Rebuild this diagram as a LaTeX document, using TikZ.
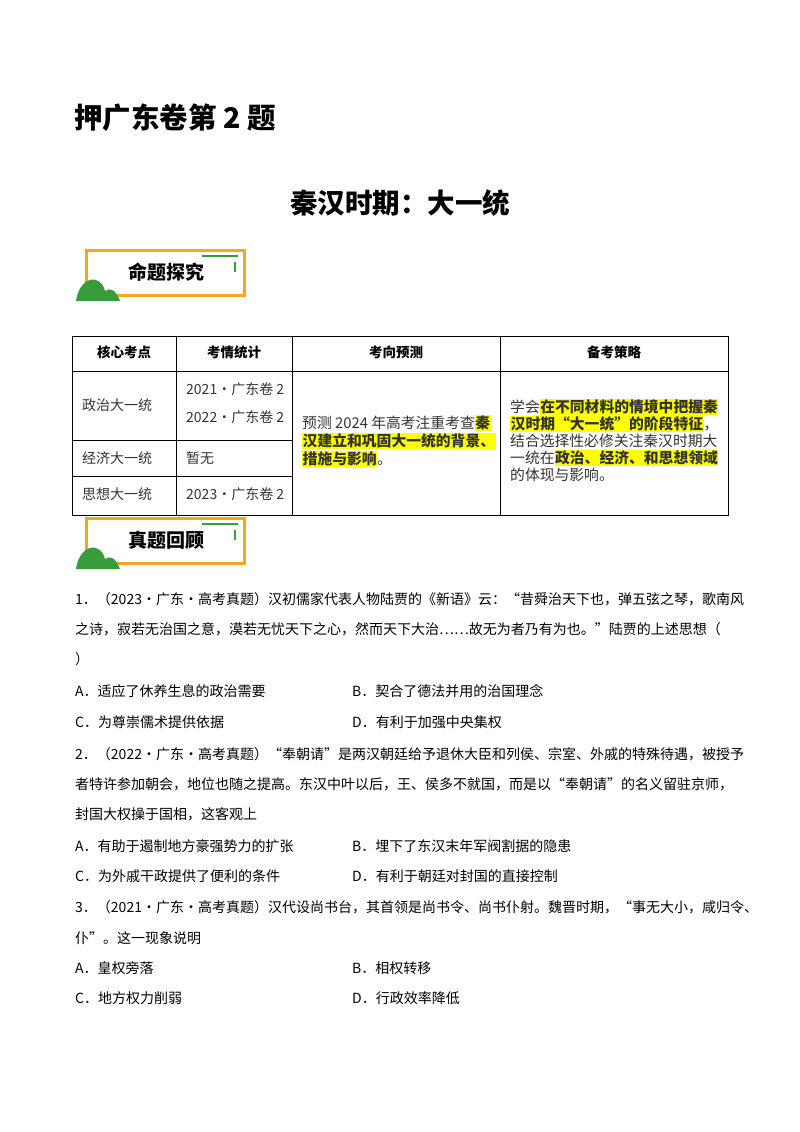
\documentclass[tikz,border=0pt]{standalone}
\usepackage{fontspec}
\setmainfont{Noto Sans CJK SC}
\usepackage{xcolor}
\definecolor{hl}{HTML}{FFFF00}
\definecolor{orng}{HTML}{F5A623}
\definecolor{grn}{HTML}{3A9B3A}
\newcommand{\hlt}[1]{{\setlength{\fboxsep}{0.5pt}\colorbox{hl}{\bfseries #1}}}
\begin{document}
\begin{tikzpicture}[x=1pt,y=-1pt,
  txt/.style={anchor=west,inner sep=0pt,font=\fontsize{14}{14}\selectfont},
  cell/.style={anchor=west,inner sep=0pt,font=\fontsize{14}{14}\selectfont,text=black!80},
  wcell/.style={anchor=west,inner sep=0pt,font=\fontsize{14.8}{14.8}\selectfont,text=black!80},
  hd/.style={inner sep=0pt,font=\fontsize{13.5}{13.5}\selectfont\bfseries}]
\useasboundingbox[fill=white] (0,0) rectangle (800,1132);
\node[anchor=west,inner sep=0pt,font=\fontsize{28.5}{28.5}\selectfont\bfseries] (t1) at (74,118) {押广东卷第 2 题};
\node[inner sep=0pt,font=\fontsize{27.5}{27.5}\selectfont\bfseries] (t2) at (400,203) {秦汉时期：大一统};
% badges
\foreach \y/\lab/\nm in {250/命题探究/ba,518/真题回顾/bb}{
  \draw[orng,line width=3pt] (86,\y) rectangle (244,\y+45);
  \draw[grn,line width=1.2pt] (202,\y+6) -- (238,\y+6) (235,\y+12) -- (235,\y+22);
  \fill[grn] (76,\y+51) .. controls (79,\y+32) and (90,\y+28) .. (96,\y+30) .. controls (102,\y+32) and (104,\y+37) .. (105,\y+41) .. controls (110,\y+37) and (116,\y+40) .. (120,\y+51) -- cycle;
  \node[inner sep=0pt,font=\fontsize{19}{19}\selectfont\bfseries] (\nm) at (166,\y+22) {\lab};
}
% table
\draw[line width=0.8pt] (72,336) rectangle (728,515);
\draw (72,371) -- (728,371);
\draw (176,336) -- (176,515) (292,336) -- (292,515) (500,336) -- (500,515);
\draw (72,440) -- (292,440) (72,476) -- (292,476);
\node[hd] (h1) at (124,352) {核心考点};
\node[hd] (h2) at (234,352) {考情统计};
\node[hd] (h3) at (396,352) {考向预测};
\node[hd] (h4) at (614,352) {备考策略};
\node[cell] (c11) at (82,405) {政治大一统};
\node[cell] (c12) at (186,389) {2021·广东卷 2};
\node[cell] (c13) at (186,417) {2022·广东卷 2};
\node[cell] (c21) at (82,458) {经济大一统};
\node[cell] (c22) at (186,458) {暂无};
\node[cell] (c31) at (82,494) {思想大一统};
\node[cell] (c32) at (186,494) {2023·广东卷 2};
\node[wcell] (p1) at (302,423) {预测 2024 年高考注重考查\hlt{秦}};
\node[wcell] (p2) at (302,441) {\hlt{汉建立和巩固大一统的背景、}};
\node[wcell] (p3) at (302,459) {\hlt{措施与影响}。};
\node[wcell] (s1) at (510,407) {学会\hlt{在不同材料的情境中把握秦}};
\node[wcell] (s2) at (510,424) {\hlt{汉时期“大一统”的阶段特征}，};
\node[wcell] (s3) at (510,441) {结合选择性必修关注秦汉时期大};
\node[wcell] (s4) at (510,458) {一统在\hlt{政治、经济、和思想领域}};
\node[wcell] (s5) at (510,475) {的体现与影响。};
% questions
\node[txt] (q1a) at (75,599) {1．（2023·广东·高考真题）汉初儒家代表人物陆贾的《新语》云：“昔舜治天下也，弹五弦之琴，歌南风};
\node[txt] (q1b) at (75,629) {之诗，寂若无治国之意，漠若无忧天下之心，然而天下大治……故无为者乃有为也。”陆贾的上述思想（};
\node[txt] (q1c) at (75,659) {）};
\node[txt] (o1a) at (75,691) {A．适应了休养生息的政治需要};
\node[txt] (o1b) at (352,691) {B．契合了德法并用的治国理念};
\node[txt] (o1c) at (75,722) {C．为尊崇儒术提供依据};
\node[txt] (o1d) at (352,722) {D．有利于加强中央集权};
\node[txt] (q2a) at (75,754) {2．（2022·广东·高考真题）“奉朝请”是两汉朝廷给予退休大臣和列侯、宗室、外戚的特殊待遇，被授予};
\node[txt] (q2b) at (75,784) {者特许参加朝会，地位也随之提高。东汉中叶以后，王、侯多不就国，而是以“奉朝请”的名义留驻京师，};
\node[txt] (q2c) at (75,814) {封国大权操于国相，这客观上};
\node[txt] (o2a) at (75,846) {A．有助于遏制地方豪强势力的扩张};
\node[txt] (o2b) at (352,846) {B．埋下了东汉末年军阀割据的隐患};
\node[txt] (o2c) at (75,876) {C．为外戚干政提供了便利的条件};
\node[txt] (o2d) at (352,876) {D．有利于朝廷对封国的直接控制};
\node[txt] (q3a) at (75,907) {3．（2021·广东·高考真题）汉代设尚书台，其首领是尚书令、尚书仆射。魏晋时期，“事无大小，咸归令、};
\node[txt] (q3b) at (75,938) {仆”。这一现象说明};
\node[txt] (o3a) at (75,968) {A．皇权旁落};
\node[txt] (o3b) at (352,968) {B．相权转移};
\node[txt] (o3c) at (75,998) {C．地方权力削弱};
\node[txt] (o3d) at (352,998) {D．行政效率降低};
\end{tikzpicture}
\end{document}
